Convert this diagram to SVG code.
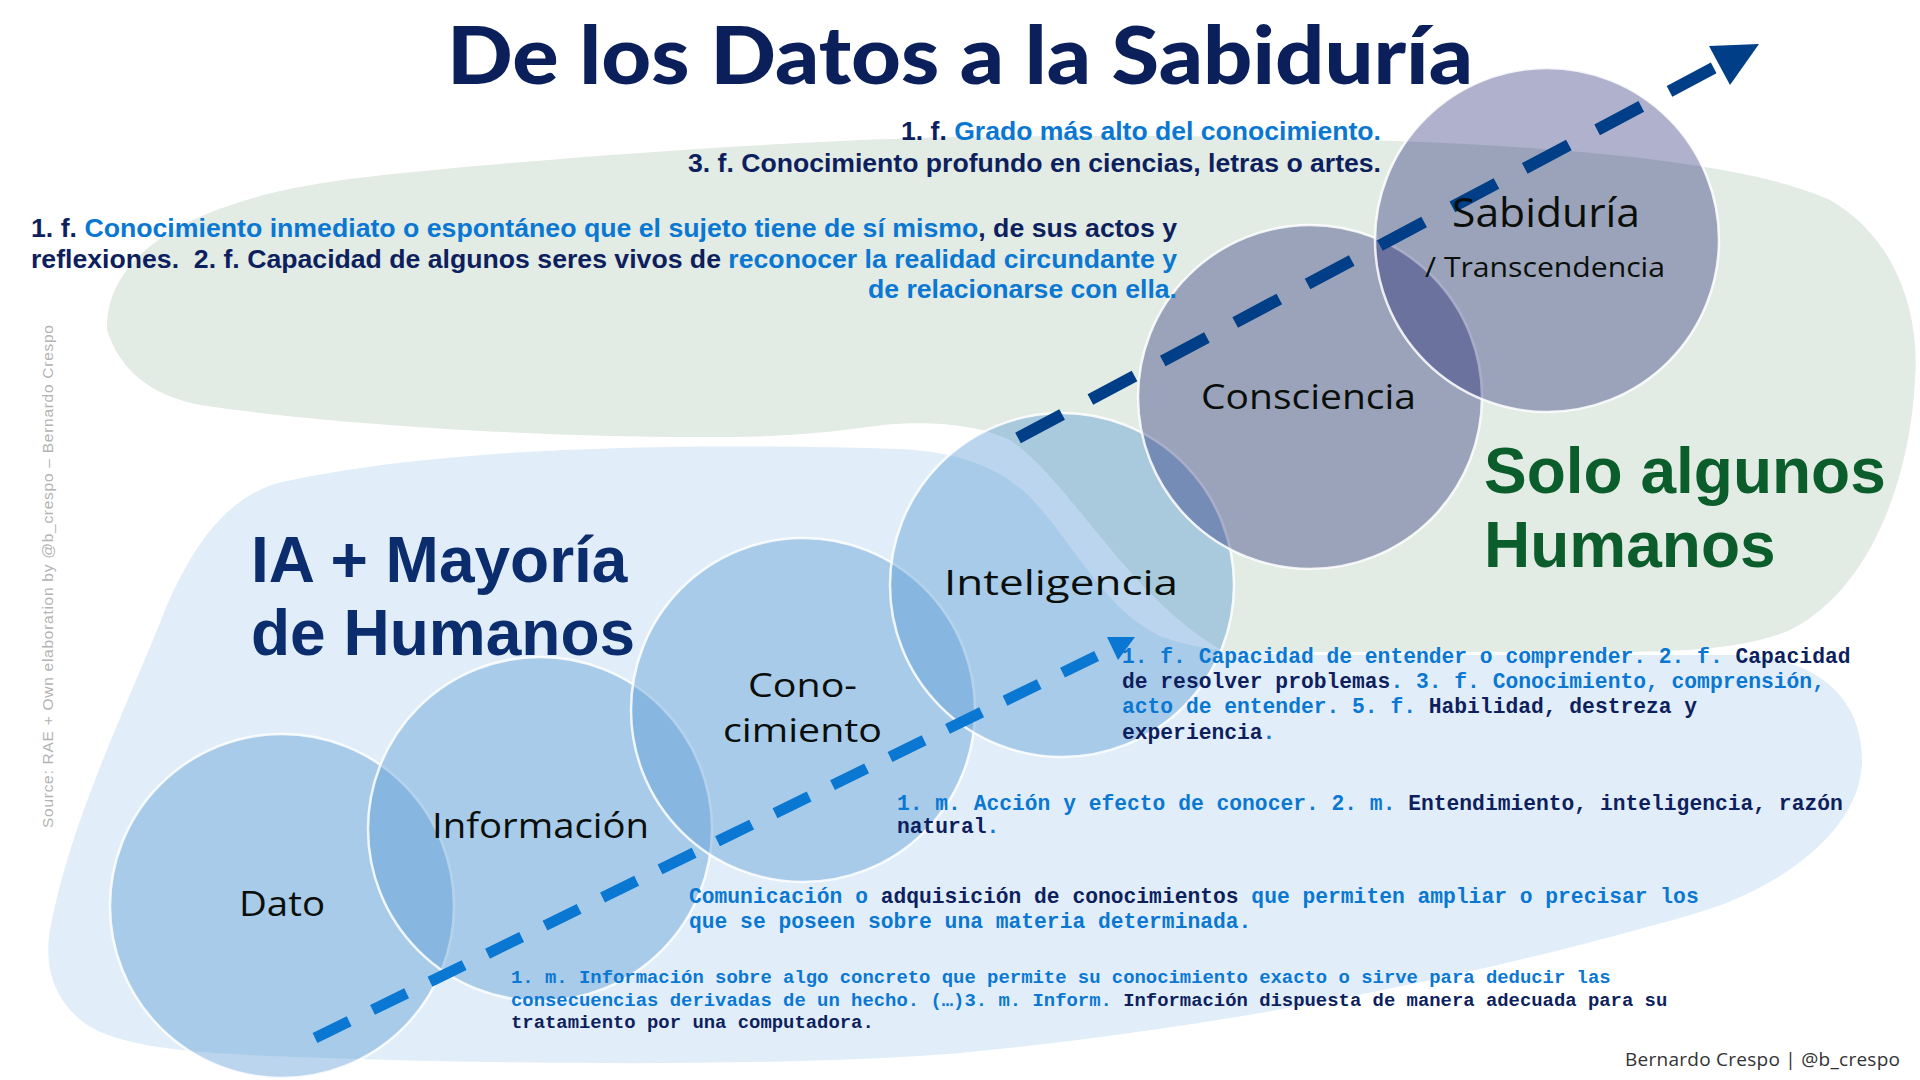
<svg xmlns="http://www.w3.org/2000/svg" width="1920" height="1080" viewBox="0 0 1920 1080">
<style>
.nv{fill:#0e1f5e}
.bl{fill:#0a78d2}
.def{font-family:"Liberation Sans Narrow","Liberation Sans",Arial,sans-serif;font-weight:bold;font-size:26.5px}
.mono{font-family:"Liberation Mono","Courier New",monospace;font-weight:bold;font-size:21.3px}
.mono2{font-family:"Liberation Mono","Courier New",monospace;font-weight:bold;font-size:18.9px}
.lbl{font-family:"Open Sans","Noto Sans",sans-serif;font-size:34px;fill:#0a0f0c}
.bc{fill:#5b9bd5;fill-opacity:0.42;stroke:#ffffff;stroke-opacity:0.85;stroke-width:2.5}
.dc{fill:#050c64;fill-opacity:0.32;stroke:#ffffff;stroke-opacity:0.85;stroke-width:2.5}
.big{font-family:"Liberation Sans",Arial,sans-serif;font-weight:bold;font-size:64px}
</style>
<rect width="1920" height="1080" fill="#ffffff"/>
<g id="bg-green">
<path d="M107,330 C105,250 200,195 367,177 C550,157 800,140 960,137 C1300,133 1700,140 1830,200 C1900,240 1920,320 1915,380 C1910,480 1870,590 1790,630 C1720,660 1600,650 1450,652 L1225,652 C1130,600 1070,480 1010,440 C980,425 930,420 882,425 C800,437 750,437 698,437 C500,437 300,420 200,405 C150,395 120,370 107,330 Z" fill="#e2ebe4"/>
</g>
<g id="bg-blue">
<path d="M282,482 C450,445 700,443 900,449 C960,452 1000,468 1030,497 C1075,545 1105,610 1160,636 C1200,652 1260,655 1320,655 L1740,655 C1820,658 1862,700 1862,760 C1862,830 1780,890 1690,915 C1550,955 1300,1020 960,1053 C750,1070 400,1062 250,1055 C150,1050 100,1040 75,1015 C50,990 45,960 50,930 C70,820 130,700 165,610 C195,540 230,495 282,482 Z" fill="#e1eef9"/>
</g>
<g id="node-dato"><circle class="bc" cx="282" cy="906" r="172"/></g>
<g id="node-informacion"><circle class="bc" cx="540" cy="829" r="172"/></g>
<g id="node-conocimiento"><circle class="bc" cx="803" cy="710" r="172"/></g>
<g id="node-inteligencia"><circle class="bc" cx="1062" cy="585" r="172"/></g>
<g id="node-consciencia"><circle class="dc" cx="1310" cy="397" r="172"/></g>
<g id="node-sabiduria"><circle class="dc" cx="1547" cy="240" r="172"/></g>
<g id="connectors">
<line x1="1018" y1="438" x2="1721" y2="64" stroke="#003f87" stroke-width="12" stroke-dasharray="50 32"/>
<polygon points="1759,44 1709,46 1730,85" fill="#003f87"/>
<line x1="315" y1="1038" x2="1113" y2="648" stroke="#0a78d2" stroke-width="11" stroke-dasharray="38 26"/>
<polygon points="1135,637 1107,637 1118,660" fill="#0a78d2"/>
</g>
<g id="labels">
<text class="lbl" x="239" y="916" textLength="86" lengthAdjust="spacingAndGlyphs">Dato</text>
<text class="lbl" x="432" y="838" textLength="217" lengthAdjust="spacingAndGlyphs">Información</text>
<text class="lbl" style="font-size:32px"><tspan x="748" y="697" textLength="109" lengthAdjust="spacingAndGlyphs">Cono-</tspan><tspan x="723" y="742" textLength="159" lengthAdjust="spacingAndGlyphs">cimiento</tspan></text>
<text class="lbl" x="944" y="595" textLength="234" lengthAdjust="spacingAndGlyphs">Inteligencia</text>
<text class="lbl" x="1201" y="409" textLength="215" lengthAdjust="spacingAndGlyphs">Consciencia</text>
<text class="lbl" x="1452" y="227" textLength="188" lengthAdjust="spacingAndGlyphs" style="font-size:40px">Sabiduría</text>
<text class="lbl" x="1425" y="277" textLength="240" lengthAdjust="spacingAndGlyphs" style="font-size:28px">/ Transcendencia</text>
</g>
<g id="title">
<text x="447" y="84" textLength="1026" lengthAdjust="spacingAndGlyphs" style="font-family:Lato,'Open Sans',sans-serif;font-weight:900;font-size:80px;fill:#0b1f5a">De los Datos a la Sabiduría</text>
</g>
<g id="group-labels">
<text class="big" x="251" fill="#0b2d6d"><tspan x="251" y="582">IA + Mayoría</tspan><tspan x="251" y="655">de Humanos</tspan></text>
<text class="big" fill="#0b5e2b"><tspan x="1484" y="493">Solo algunos</tspan><tspan x="1484" y="567">Humanos</tspan></text>
</g>
<g id="def-sabiduria">
<text class="def" x="901" y="140" textLength="480" lengthAdjust="spacingAndGlyphs"><tspan class="nv">1. f. </tspan><tspan class="bl">Grado más alto del conocimiento.</tspan></text>
<text class="def nv" x="688" y="172" textLength="693" lengthAdjust="spacingAndGlyphs">3. f. Conocimiento profundo en ciencias, letras o artes.</text>
</g>
<g id="def-consciencia">
<text class="def" x="31" y="237" textLength="1146" lengthAdjust="spacingAndGlyphs"><tspan class="nv">1. f. </tspan><tspan class="bl">Conocimiento inmediato o espontáneo que el sujeto tiene de sí mismo</tspan><tspan class="nv">, de sus actos y</tspan></text>
<text class="def" x="31" y="268" textLength="1146" lengthAdjust="spacingAndGlyphs"><tspan class="nv">reflexiones.&#160; 2. f. Capacidad de algunos seres vivos de </tspan><tspan class="bl">reconocer la realidad circundante y</tspan></text>
<text class="def bl" x="868" y="298" textLength="309" lengthAdjust="spacingAndGlyphs">de relacionarse con ella.</text>
</g>
<g id="def-inteligencia">
<text class="mono" x="1122" y="663"><tspan class="bl">1. f. Capacidad de entender o comprender. 2. f. </tspan><tspan class="nv">Capacidad</tspan></text>
<text class="mono" x="1122" y="688"><tspan class="nv">de resolver problemas</tspan><tspan class="bl">. 3. f. Conocimiento, comprensión,</tspan></text>
<text class="mono" x="1122" y="713"><tspan class="bl">acto de entender. 5. f. </tspan><tspan class="nv">Habilidad, destreza y</tspan></text>
<text class="mono" x="1122" y="739"><tspan class="nv">experiencia</tspan><tspan class="bl">.</tspan></text>
</g>
<g id="def-conocimiento">
<text class="mono" x="897" y="810"><tspan class="bl">1. m. Acción y efecto de conocer. 2. m. </tspan><tspan class="nv">Entendimiento, inteligencia, razón</tspan></text>
<text class="mono" x="897" y="833"><tspan class="nv">natural</tspan><tspan class="bl">.</tspan></text>
</g>
<g id="def-informacion">
<text class="mono" x="689" y="903"><tspan class="bl">Comunicación o </tspan><tspan class="nv">adquisición de conocimientos</tspan><tspan class="bl"> que permiten ampliar o precisar los</tspan></text>
<text class="mono bl" x="689" y="928">que se poseen sobre una materia determinada.</text>
</g>
<g id="def-dato">
<text class="mono2 bl" x="511" y="983">1. m. Información sobre algo concreto que permite su conocimiento exacto o sirve para deducir las</text>
<text class="mono2" x="511" y="1006"><tspan class="bl">consecuencias derivadas de un hecho. (…)3. m. Inform. </tspan><tspan class="nv">Información dispuesta de manera adecuada para su</tspan></text>
<text class="mono2 nv" x="511" y="1028">tratamiento por una computadora.</text>
</g>
<g id="credits">
<text x="1625" y="1066" textLength="275" style="font-family:'Open Sans',sans-serif;font-size:19px;fill:#333333">Bernardo Crespo | @b_crespo</text>
<text transform="translate(53,828) rotate(-90)" textLength="503" style="font-family:'Liberation Sans',Arial,sans-serif;font-size:15.5px;fill:#b3b3b3">Source: RAE + Own elaboration by @b_crespo – Bernardo Crespo</text>
</g>
</svg>
